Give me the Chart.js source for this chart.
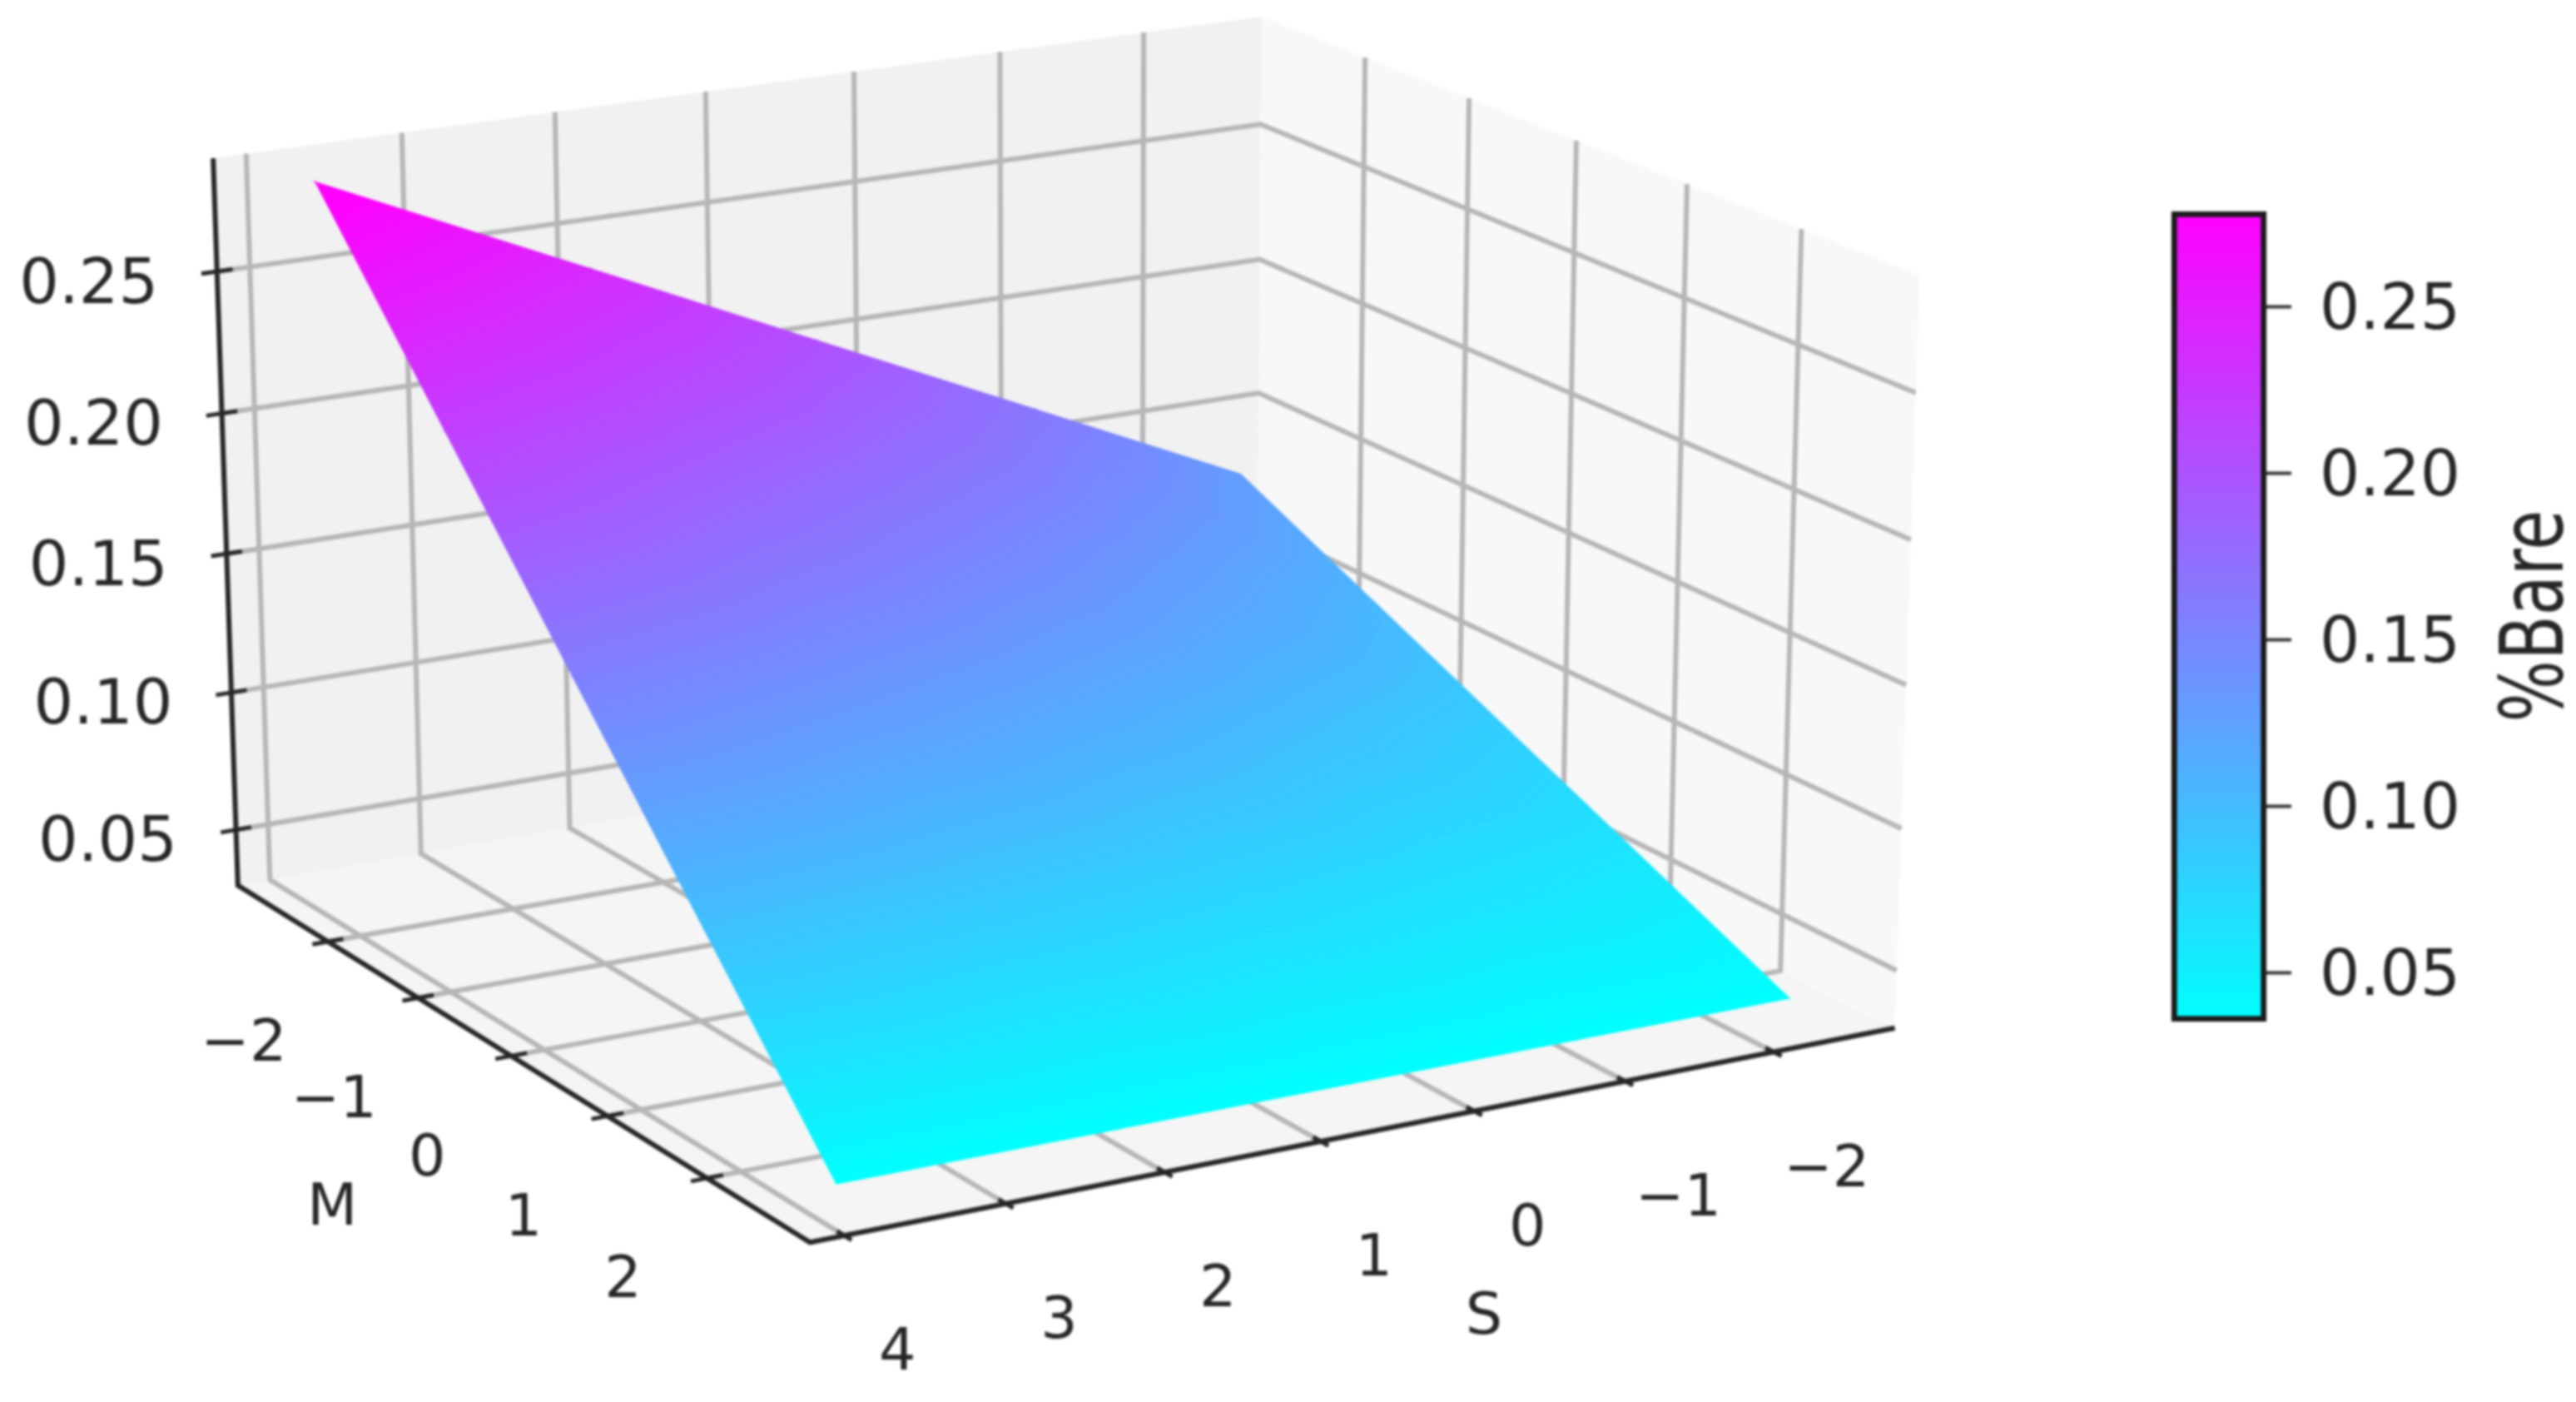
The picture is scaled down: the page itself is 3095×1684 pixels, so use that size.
<!DOCTYPE html>
<html>
<head>
<meta charset="utf-8">
<title>%Bare surface</title>
<script src="https://cdn.jsdelivr.net/npm/chart.js@4"></script>
<style>
  html, body { margin: 0; padding: 0; background: #fff; width: 3095px; height: 1684px; overflow: hidden; }
  #surfaceChart { position: absolute; left: 0; top: 0; filter: blur(1.4px); }
  #barChart { position: absolute; left: 2560px; top: 200px; filter: blur(1.6px); }
</style>
</head>
<body>
<canvas id="surfaceChart" width="3095" height="1684"></canvas>
<canvas id="barChart" width="535" height="1080"></canvas>
<script>
// axis limits and ticks
const sLimits = [-2.83, 4.21];
const mLimits = [-3.03, 3.0];
const zLimits = [0.0296, 0.2895];
const sTicks = [-2, -1, 0, 1, 2, 3, 4];
const mTicks = [-2, -1, 0, 1, 2];
const zTicks = [0.05, 0.10, 0.15, 0.20, 0.25];

// surface values, one row per M
const surfaceS = [-2.44, -1, 0.5, 2, 3.77];
const surfaceM = [-2.66, -1.3, 0, 1.3, 2.57];
const surfaceZ = [
  [0.129, 0.1648, 0.2021, 0.2395, 0.2835],
  [0.1046, 0.1311, 0.1584, 0.1849, 0.2190],
  [0.0813, 0.0989, 0.1173, 0.1356, 0.1573],
  [0.0581, 0.0667, 0.0758, 0.0849, 0.0956],
  [0.0353, 0.0353, 0.0353, 0.0353, 0.0353]
];

// colour scale
const colorRange = [0.0353, 0.2787];
const colorStops = ['#00ffff', '#ff00ff'];

// camera: box corners [s, m, z] (0..1 inside the box) and where they land
const cameraBox = [[1,0,0],[1,1,0],[0,1,0],[1,0,1],[0,0,1],[0,1,1],[0,0,0]];
const cameraPx = [[286,1062],[972,1494],[2277,1231],[257,190],[1514,18],[2307,333],[1510,855]];

const TEXT = '#262626';
const GRID = '#b6b6b6';

function solve(A, b) {
  const n = b.length;
  const M = A.map((r, i) => [...r, b[i]]);
  for (let c = 0; c < n; c++) {
    let p = c;
    for (let r = c + 1; r < n; r++) if (Math.abs(M[r][c]) > Math.abs(M[p][c])) p = r;
    [M[c], M[p]] = [M[p], M[c]];
    for (let r = 0; r < n; r++) {
      if (r === c) continue;
      const f = M[r][c] / M[c][c];
      for (let k = c; k <= n; k++) M[r][k] -= f * M[c][k];
    }
  }
  return M.map((r, i) => r[n] / r[i]);
}

// least squares fit of the 3x4 projection
function fitCamera() {
  const rows = [], rhs = [];
  cameraBox.forEach((p, i) => {
    const [X, Y, Z] = p;
    const u = cameraPx[i][0] / 1000, v = cameraPx[i][1] / 1000;
    rows.push([X, Y, Z, 1, 0, 0, 0, 0, -u * X, -u * Y, -u * Z]); rhs.push(u);
    rows.push([0, 0, 0, 0, X, Y, Z, 1, -v * X, -v * Y, -v * Z]); rhs.push(v);
  });
  const AtA = [...Array(11)].map((_, i) => [...Array(11)].map((_, j) => rows.reduce((s, r) => s + r[i] * r[j], 0)));
  const Atb = [...Array(11)].map((_, i) => rows.reduce((s, r, k) => s + r[i] * rhs[k], 0));
  return solve(AtA, Atb);
}
const cam = fitCamera();

function project(s, m, z) {
  const X = (s - sLimits[0]) / (sLimits[1] - sLimits[0]);
  const Y = (m - mLimits[0]) / (mLimits[1] - mLimits[0]);
  const Z = (z - zLimits[0]) / (zLimits[1] - zLimits[0]);
  const w = cam[8] * X + cam[9] * Y + cam[10] * Z + 1;
  return {
    x: 1000 * (cam[0] * X + cam[1] * Y + cam[2] * Z + cam[3]) / w,
    y: 1000 * (cam[4] * X + cam[5] * Y + cam[6] * Z + cam[7]) / w
  };
}

const [s0, s1] = sLimits, [m0, m1] = mLimits, [z0, z1] = zLimits;
const datasets = [];

function addLine(points, color, width, order) {
  datasets.push({ data: points, borderColor: color, borderWidth: width, order: order, fill: false, tension: 0, pointRadius: 0 });
}
function addPane(points, color) {
  datasets.push({ data: points, backgroundColor: color, borderColor: color, borderWidth: 0, order: 5, fill: 'shape', tension: 0, pointRadius: 0 });
}

// panes
addPane([project(s1,m0,z0), project(s0,m0,z0), project(s0,m0,z1), project(s1,m0,z1), project(s1,m0,z0)], '#f1f1f1');
addPane([project(s0,m0,z0), project(s0,m1,z0), project(s0,m1,z1), project(s0,m0,z1), project(s0,m0,z0)], '#f8f8f8');
addPane([project(s1,m0,z0), project(s1,m1,z0), project(s0,m1,z0), project(s0,m0,z0), project(s1,m0,z0)], '#f5f5f5');

// grid lines on floor and walls
sTicks.forEach(s => addLine([project(s,m1,z0), project(s,m0,z0), project(s,m0,z1)], GRID, 6, 4));
mTicks.forEach(m => addLine([project(s1,m,z0), project(s0,m,z0), project(s0,m,z1)], GRID, 6, 4));
zTicks.forEach(z => addLine([project(s1,m0,z), project(s0,m0,z), project(s0,m1,z)], GRID, 6, 4));

// axis lines
addLine([project(s1,m0,z1), project(s1,m0,z0), project(s1,m1,z0), project(s0,m1,z0)], TEXT, 6, 2);

// tick marks cross the axis lines
const tickS = 0.1, tickM = 0.07;
sTicks.forEach(s => addLine([project(s,m1-tickM,z0), project(s,m1+tickM,z0)], TEXT, 5, 2));
mTicks.forEach(m => addLine([project(s1-tickS,m,z0), project(s1+tickS,m,z0)], TEXT, 5, 2));
zTicks.forEach(z => addLine([project(s1-tickS,m0,z), project(s1+tickS,m0,z)], TEXT, 5, 2));

// colour gradient across a triangle of the surface
function triGradient(chart, tri) {
  const sx = chart.scales.x, sy = chart.scales.y;
  if (!sx || !sy || !chart.chartArea) return colorStops[0];
  const p = tri.map(t => ({ x: sx.getPixelForValue(t.x), y: sy.getPixelForValue(t.y), z: t.z }));
  const ax = p[1].x - p[0].x, ay = p[1].y - p[0].y, az = p[1].z - p[0].z;
  const bx = p[2].x - p[0].x, by = p[2].y - p[0].y, bz = p[2].z - p[0].z;
  const det = ax * by - ay * bx;
  if (!det || !isFinite(det)) return colorStops[0];
  const gx = (az * by - ay * bz) / det, gy = (ax * bz - az * bx) / det;
  const n2 = gx * gx + gy * gy;
  if (n2 < 1e-14) return colorStops[0];
  const d0 = (colorRange[0] - p[0].z) / n2, d1 = (colorRange[1] - p[0].z) / n2;
  const g = chart.ctx.createLinearGradient(p[0].x + gx * d0, p[0].y + gy * d0, p[0].x + gx * d1, p[0].y + gy * d1);
  g.addColorStop(0, colorStops[0]);
  g.addColorStop(1, colorStops[1]);
  return g;
}

function addTriangle(a, b, c) {
  const tri = [a, b, c];
  const paint = ctx => triGradient(ctx.chart, tri);
  datasets.push({
    data: [a, b, c, a].map(t => ({ x: t.x, y: t.y })),
    backgroundColor: paint, borderColor: paint, borderWidth: 1.5,
    order: 1, fill: 'shape', tension: 0, pointRadius: 0
  });
}

// surface cells
surfaceM.forEach((m, i) => {
  if (i === surfaceM.length - 1) return;
  surfaceS.forEach((s, j) => {
    if (j === surfaceS.length - 1) return;
    const node = (r, c) => ({ ...project(surfaceS[c], surfaceM[r], surfaceZ[r][c]), z: surfaceZ[r][c] });
    addTriangle(node(i, j), node(i, j + 1), node(i + 1, j));
    addTriangle(node(i + 1, j), node(i, j + 1), node(i + 1, j + 1));
  });
});

// tick labels follow the projected ticks
const axisLabels = {
  id: 'axisLabels',
  afterDraw(chart) {
    const { ctx, scales } = chart;
    const put = (pt, dx, dy, text, size) => {
      ctx.font = size + 'px "DejaVu Sans"';
      ctx.fillText(text, scales.x.getPixelForValue(pt.x) + dx, scales.y.getPixelForValue(pt.y) + dy);
    };
    const fmt = v => String(v).replace('-', '\u2212');
    ctx.save();
    ctx.fillStyle = TEXT;
    ctx.textAlign = 'center';
    ctx.textBaseline = 'middle';
    zTicks.forEach(z => put(project(s1,m0,z), -154, 18, z.toFixed(2), 75));
    mTicks.forEach(m => put(project(s1,m,z0), -101, 125, fmt(m), 70));
    sTicks.forEach(s => put(project(s,m1,z0), 64, 143, fmt(s), 70));
    put(project(s1,0,z0), -215, 184, 'M', 70);
    put(project(1,m1,z0), 196, 213, 'S', 70);
    ctx.restore();
  }
};

new Chart(document.getElementById('surfaceChart'), {
  type: 'line',
  data: { datasets: datasets },
  plugins: [axisLabels],
  options: {
    responsive: false,
    animation: false,
    layout: { padding: 0 },
    plugins: { legend: { display: false }, tooltip: { enabled: false } },
    scales: {
      x: { type: 'linear', display: false, min: 0, max: 3095 },
      y: { type: 'linear', display: false, min: 0, max: 1684, reverse: true }
    }
  }
});

// colour bar
const barTitle = {
  id: 'barTitle',
  afterDraw(chart) {
    const ctx = chart.ctx;
    ctx.save();
    ctx.translate(519, 540);
    ctx.rotate(-Math.PI / 2);
    ctx.font = '105px "DejaVu Sans"';
    ctx.scale(255 / ctx.measureText('%Bare').width, 1);
    ctx.fillStyle = TEXT;
    ctx.textAlign = 'center';
    ctx.textBaseline = 'alphabetic';
    ctx.fillText('%Bare', 0, 0);
    ctx.restore();
  }
};

new Chart(document.getElementById('barChart'), {
  type: 'bar',
  data: {
    labels: ['%Bare'],
    datasets: [{
      data: [colorRange],
      backgroundColor: ctx => {
        const area = ctx.chart.chartArea;
        if (!area) return colorStops[0];
        const g = ctx.chart.ctx.createLinearGradient(0, area.bottom, 0, area.top);
        g.addColorStop(0, colorStops[0]);
        g.addColorStop(1, colorStops[1]);
        return g;
      },
      borderColor: '#1a1a1a',
      borderWidth: 7,
      borderSkipped: false,
      barPercentage: 1,
      categoryPercentage: 1,
      clip: false
    }]
  },
  plugins: [barTitle],
  options: {
    responsive: false,
    animation: false,
    layout: { padding: { left: 49, top: 54, bottom: 53, right: 0 } },
    plugins: { legend: { display: false }, tooltip: { enabled: false } },
    scales: {
      x: { display: false },
      y: {
        position: 'right',
        min: colorRange[0],
        max: colorRange[1],
        afterBuildTicks: axis => { axis.ticks = zTicks.map(v => ({ value: v })); },
        afterFit: axis => { axis.width = 372; axis.paddingTop = 0; axis.paddingBottom = 0; },
        border: { display: false },
        grid: { drawOnChartArea: false, drawTicks: true, tickLength: 30, tickWidth: 4, tickColor: '#333' },
        ticks: { padding: 34, labelOffset: 7, color: TEXT, font: { family: 'DejaVu Sans', size: 76 }, callback: v => v.toFixed(2), autoSkip: false, maxRotation: 0 }
      }
    }
  }
});
</script>
</body>
</html>
